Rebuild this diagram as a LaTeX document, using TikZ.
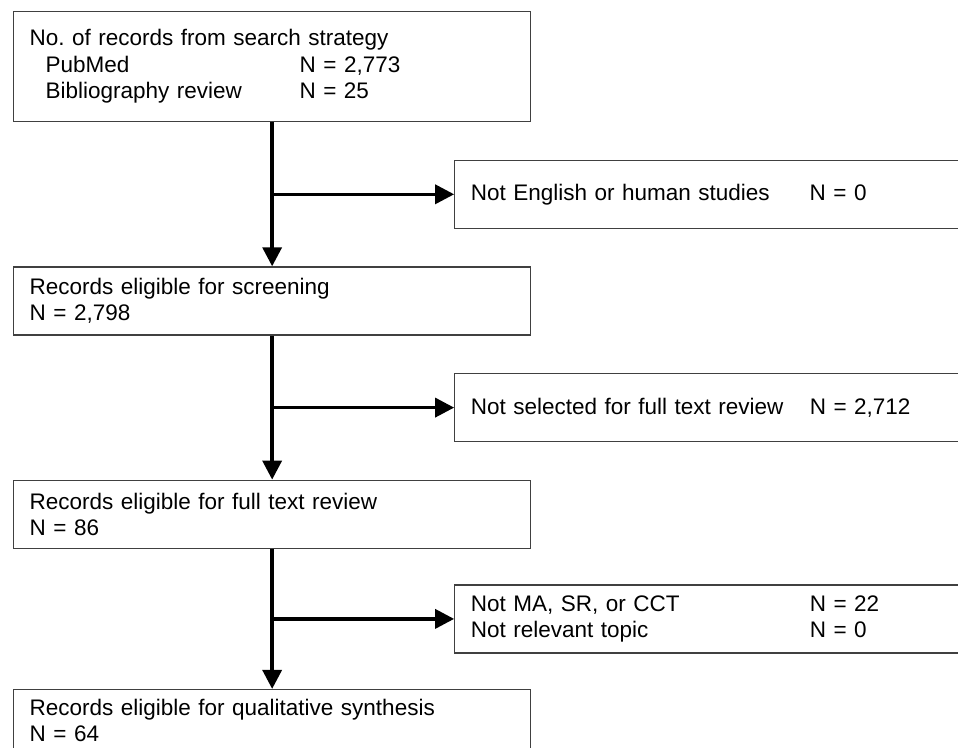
\documentclass[tikz,border=0pt]{standalone}
\usepackage{fontspec}
\setmainfont{Liberation Sans}
\frenchspacing
\usetikzlibrary{positioning,arrows.meta,calc}

\begin{document}
\begin{tikzpicture}[
    x=1pt, y=-1pt,
    node distance=144pt and 182pt,
    mainbox/.style={rectangle, draw=black!75, line width=1.3pt, minimum width=517pt, text width=485pt, inner xsep=16pt, align=left, minimum height=68pt, font=\fontsize{22.5}{26.5}\selectfont},
    sidebox/.style={mainbox, minimum width=540pt, text width=508pt},
    flow/.style={line width=3.5pt, -{Triangle[length=19pt,width=19pt]}}
]
\useasboundingbox (0,0) rectangle (958,747);

% Main stages
\node[mainbox, minimum height=110pt, anchor=north west] (search) at (13,11) {No. of records from search strategy\\
\hspace*{16pt}\makebox[254pt][l]{PubMed}N = 2,773\\
\hspace*{16pt}\makebox[254pt][l]{Bibliography review}N = 25};
\node[mainbox, below=of search] (screen) {Records eligible for screening\\N = 2,798};
\node[mainbox, below=of screen] (fulltext) {Records eligible for full text review\\N = 86};
\node[mainbox, below=140pt of fulltext, minimum height=62pt] (synth) {Records eligible for qualitative synthesis\\N = 64};

\draw[flow] (search) -- (screen);
\draw[flow] (screen) -- (fulltext);
\draw[flow] (fulltext) -- (synth);

% Exclusions
\coordinate (b1) at ($(search.south)!0.5!(screen.north)$);
\coordinate (b2) at ($(screen.south)!0.5!(fulltext.north)$);
\coordinate (b3) at ($(fulltext.south)!0.5!(synth.north)$);

\node[sidebox, right=of b1] (lang) {\makebox[339pt][l]{Not English or human studies}N = 0};
\node[sidebox, right=of b2] (notsel) {\makebox[339pt][l]{Not selected for full text review}N = 2,712};
\node[sidebox, right=of b3] (notrel) {\makebox[339pt][l]{Not MA, SR, or CCT}N = 22\\
\makebox[339pt][l]{Not relevant topic}N = 0};

\draw[flow] (b1) -- (lang);
\draw[flow] (b2) -- (notsel);
\draw[flow] (b3) -- (notrel);
\end{tikzpicture}
\end{document}
